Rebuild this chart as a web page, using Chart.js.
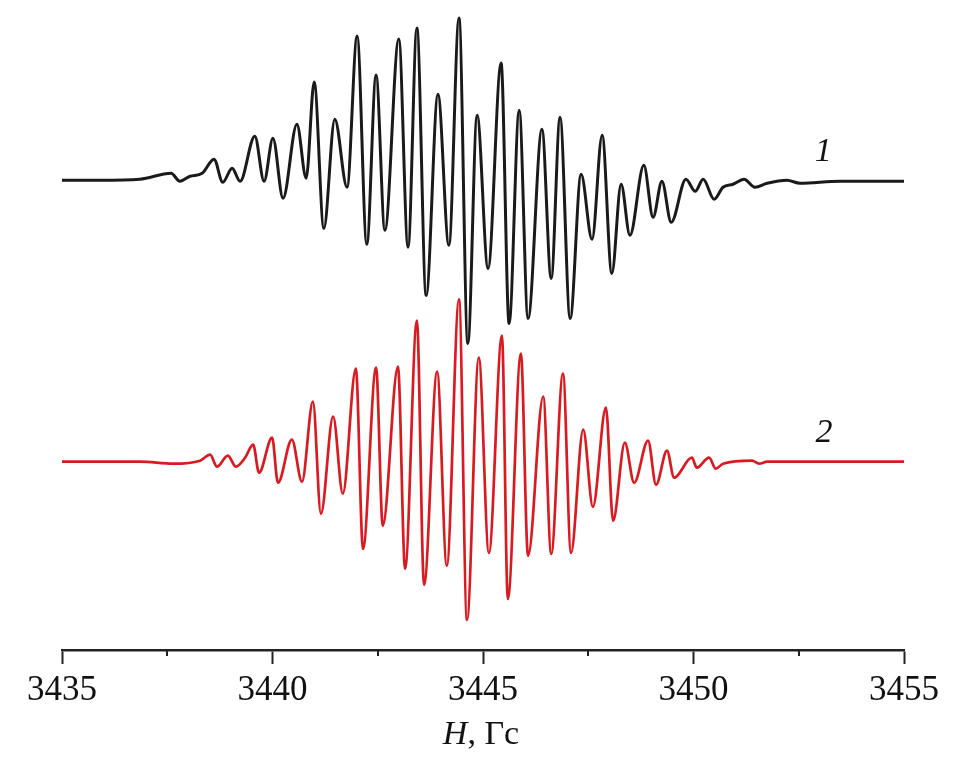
<!DOCTYPE html>
<html>
<head>
<meta charset="utf-8">
<script src="https://cdn.jsdelivr.net/npm/chart.js@4/dist/chart.umd.min.js"></script>
<style>
  html, body { margin: 0; padding: 0; background: #fff; }
  #wrap { width: 963px; height: 766px; }
</style>
</head>
<body>
<div id="wrap"><canvas id="eprChart" width="963" height="766"></canvas></div>
<script>
// spectrum 1 (black) - field, Gs / signal, arb. units (peaks and troughs)
const field1 = [3435.00, 3435.90, 3436.85, 3437.59, 3437.80, 3438.04, 3438.33, 3438.61, 3438.82, 3439.04,
    3439.23, 3439.58, 3439.80, 3440.01, 3440.25, 3440.58, 3440.80, 3440.99, 3441.22, 3441.48,
    3441.77, 3442.01, 3442.24, 3442.46, 3442.67, 3443.00, 3443.22, 3443.43, 3443.65, 3443.93,
    3444.19, 3444.43, 3444.64, 3444.86, 3445.12, 3445.43, 3445.62, 3445.86, 3446.07, 3446.40,
    3446.62, 3446.83, 3447.07, 3447.33, 3447.59, 3447.83, 3448.06, 3448.28, 3448.49, 3448.82,
    3449.04, 3449.25, 3449.47, 3449.82, 3450.04, 3450.23, 3450.49, 3450.70, 3450.94, 3451.20,
    3451.46, 3451.75, 3452.22, 3452.53, 3453.48, 3455.00];
const signal1 = [1, 1, 2, 8, 0, 5, 8, 22, -1, 13,
    0, 45, 0, 43, -17, 57, 3, 99, -47, 62,
    -6, 145, -63, 106, -49, 142, -66, 153, -114, 87,
    -64, 163, -162, 66, -87, 118, -142, 71, -137, 52,
    -97, 64, -137, 7, -58, 46, -92, -3, -54, 16,
    -36, 0, -41, 2, -10, 2, -18, -6, -3, 2,
    -6, -2, 1, -2, 0, 0];

// spectrum 2 (red)
const field2 = [3435.00, 3436.85, 3437.64, 3438.28, 3438.52, 3438.68, 3438.94, 3439.13, 3439.35, 3439.54,
    3439.68, 3439.99, 3440.13, 3440.46, 3440.70, 3440.96, 3441.15, 3441.44, 3441.67, 3441.98,
    3442.15, 3442.46, 3442.62, 3442.98, 3443.15, 3443.43, 3443.60, 3443.91, 3444.14, 3444.43,
    3444.62, 3444.90, 3445.14, 3445.45, 3445.59, 3445.90, 3446.07, 3446.43, 3446.62, 3446.90,
    3447.09, 3447.38, 3447.61, 3447.92, 3448.09, 3448.37, 3448.59, 3448.92, 3449.11, 3449.37,
    3449.54, 3449.96, 3450.08, 3450.37, 3450.53, 3450.70, 3451.39, 3451.56, 3451.75, 3455.00];
const signal2 = [0, 0, -2, 1, 7, -5, 6, -5, 4, 17,
    -11, 24, -21, 22, -20, 60, -52, 45, -32, 93,
    -87, 94, -64, 95, -107, 141, -123, 90, -104, 162,
    -158, 104, -91, 126, -137, 108, -94, 65, -92, 88,
    -91, 32, -45, 54, -59, 19, -21, 21, -23, 11,
    -16, 4, -6, 4, -7, -2, 1, -2, 0, 0];

const majorTicks = [3435, 3440, 3445, 3450, 3455];
const minorTicks = [3437.5, 3442.5, 3447.5, 3452.5];
const curveLabels = ["1", "2"];

// vertical offsets so the two spectra are stacked
const offset1 = 468;
const offset2 = 188;
const labelPos = [{ x: 3453.08, y: 497 }, { x: 3453.1, y: 217 }];

const serif = "'Liberation Serif', 'Times New Roman', serif";

function toPoints(xs, ys, off) {
    return xs.map((x, i) => ({ x: x, y: ys[i] + off }));
}

const extras = {
    id: "extras",
    afterDraw(chart) {
        const ctx = chart.ctx;
        const xs = chart.scales.x;
        const ys = chart.scales.y;
        const bottom = chart.chartArea.bottom;
        ctx.save();
        // minor ticks
        ctx.strokeStyle = "#222";
        ctx.lineWidth = 2;
        minorTicks.forEach(v => {
            const px = Math.round(xs.getPixelForValue(v));
            ctx.beginPath();
            ctx.moveTo(px, bottom);
            ctx.lineTo(px, bottom + 6);
            ctx.stroke();
        });
        // curve numbers
        ctx.fillStyle = "#111";
        ctx.font = "italic 34px " + serif;
        ctx.textAlign = "center";
        ctx.textBaseline = "middle";
        curveLabels.forEach((t, i) => {
            ctx.fillText(t, xs.getPixelForValue(labelPos[i].x), ys.getPixelForValue(labelPos[i].y));
        });
        // axis title: H, Гс
        const part1 = "H";
        const part2 = ", Гс";
        ctx.textBaseline = "alphabetic";
        ctx.textAlign = "left";
        ctx.font = "italic 34px " + serif;
        const w1 = ctx.measureText(part1).width;
        ctx.font = "34px " + serif;
        const w2 = ctx.measureText(part2).width;
        const cx = (chart.chartArea.left + chart.chartArea.right) / 2 - 2;
        const x0 = cx - (w1 + w2) / 2;
        const ty = 744;
        ctx.font = "italic 34px " + serif;
        ctx.fillText(part1, x0, ty);
        ctx.font = "34px " + serif;
        ctx.fillText(part2, x0 + w1, ty);
        ctx.restore();
    }
};

const ctx = document.getElementById("eprChart");
new Chart(ctx, {
    type: "line",
    data: {
        datasets: [{
            label: "1",
            data: toPoints(field1, signal1, offset1),
            borderColor: "#1a1a1a",
            borderWidth: 3,
            pointRadius: 0,
            cubicInterpolationMode: "monotone",
            tension: 0.4,
            fill: false
        }, {
            label: "2",
            data: toPoints(field2, signal2, offset2),
            borderColor: "rgb(218, 26, 32)",
            borderWidth: 2.7,
            pointRadius: 0,
            cubicInterpolationMode: "monotone",
            tension: 0.4,
            fill: false
        }]
    },
    options: {
        responsive: false,
        animation: false,
        layout: { padding: { left: 62, right: 59, top: 8, bottom: 48 } },
        plugins: {
            legend: { display: false },
            tooltip: { enabled: false }
        },
        scales: {
            x: {
                type: "linear",
                min: 3435,
                max: 3455,
                afterBuildTicks: (axis) => { axis.ticks = majorTicks.map(v => ({ value: v })); },
                ticks: {
                    color: "#111",
                    font: { family: serif, size: 35 },
                    padding: 6,
                    maxRotation: 0,
                    autoSkip: false,
                    callback: (v) => String(v)
                },
                grid: {
                    display: true,
                    drawOnChartArea: false,
                    drawTicks: true,
                    tickLength: 14,
                    tickWidth: 2,
                    tickColor: "#222"
                },
                border: { display: true, color: "#222", width: 2.5 }
            },
            y: {
                display: false,
                min: 0,
                max: 641
            }
        }
    },
    plugins: [extras]
});
</script>
</body>
</html>
